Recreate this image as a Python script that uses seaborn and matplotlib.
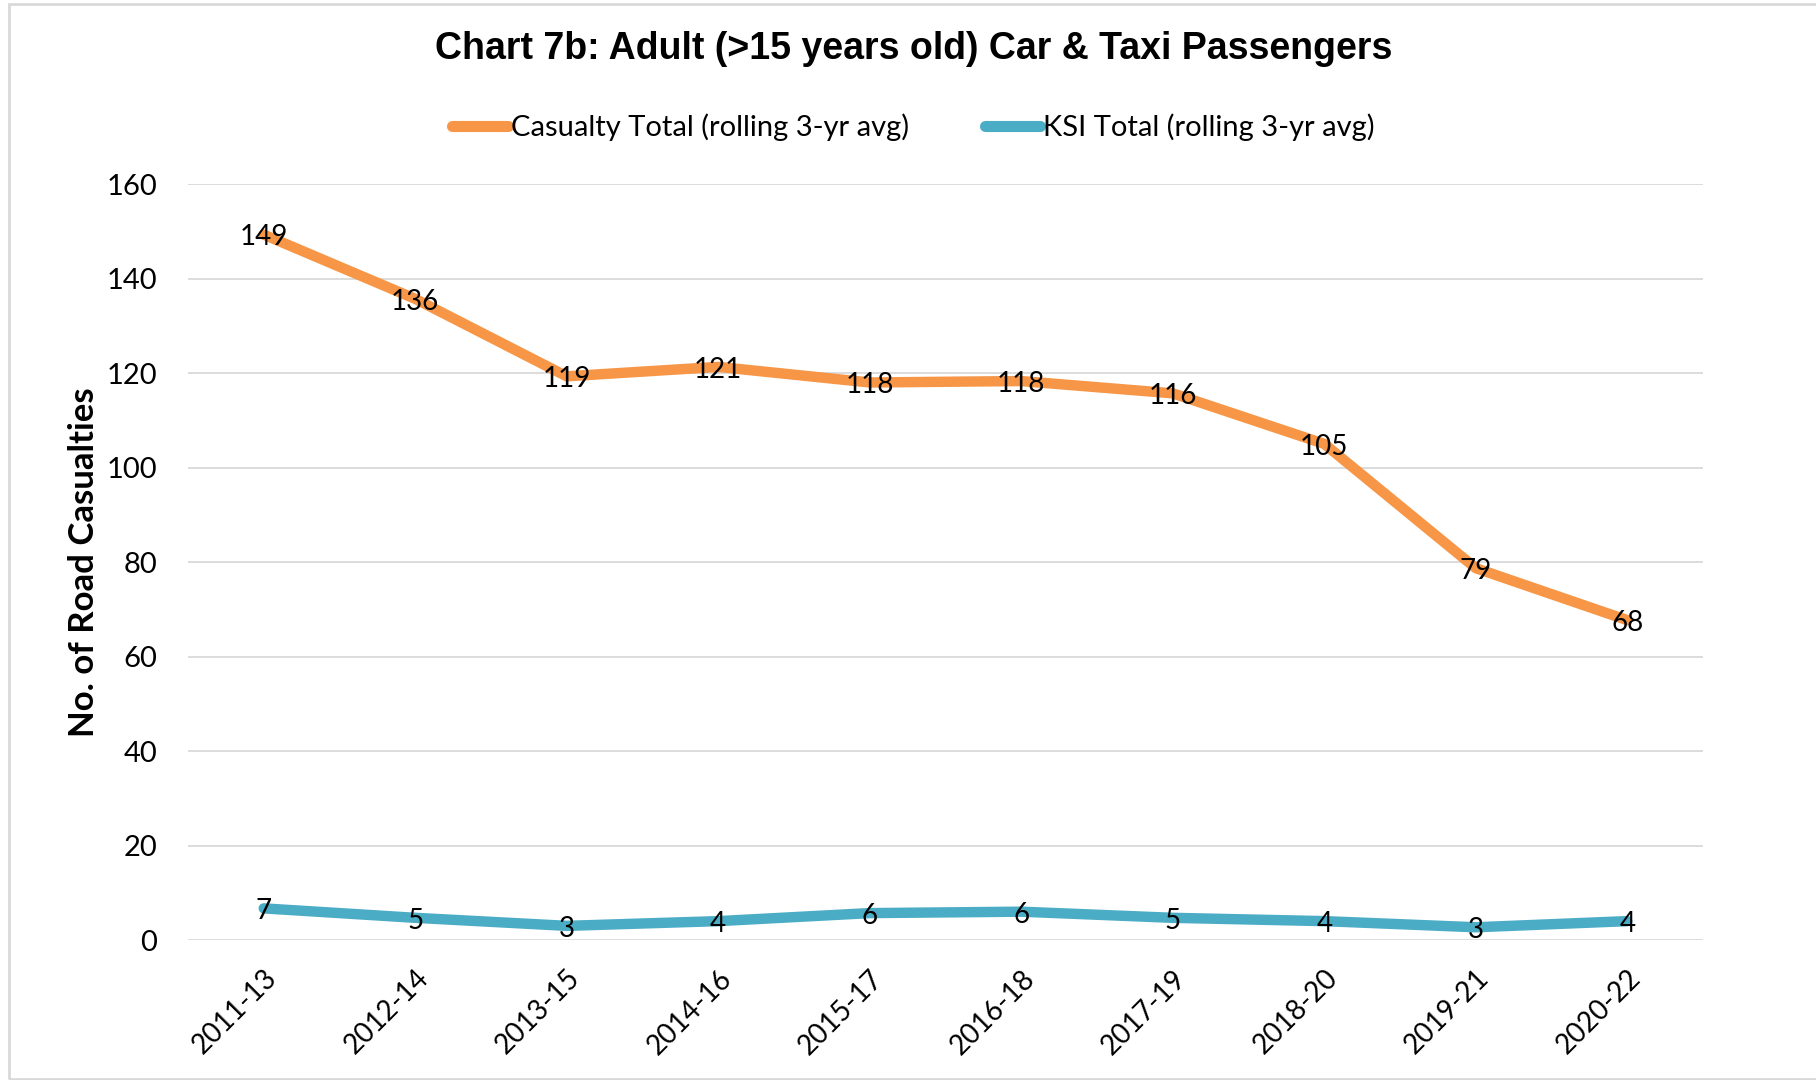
import matplotlib
matplotlib.use("Agg")
import matplotlib.pyplot as plt
import seaborn as sns
import pandas as pd
from matplotlib.patches import Rectangle
from matplotlib.lines import Line2D

# ---------------------------------------------------------------------------
# Data (rolling 3-year averages)
# ---------------------------------------------------------------------------
periods = ["2011-13", "2012-14", "2013-15", "2014-16", "2015-17",
           "2016-18", "2017-19", "2018-20", "2019-21", "2020-22"]
casualty_total = [149.3, 135.7, 119.3, 121.3, 118.0, 118.3, 115.7, 105.0, 78.7, 67.7]
ksi_total = [6.7, 4.7, 3.0, 4.0, 5.7, 6.0, 4.7, 4.0, 2.7, 4.0]
series_names = ["Casualty Total (rolling 3-yr avg)", "KSI Total (rolling 3-yr avg)"]
colours = ["#F79646", "#4BACC6"]
y_ticks = [0, 20, 40, 60, 80, 100, 120, 140, 160]

df = pd.DataFrame({
    "period": periods * 2,
    "pos": list(range(len(periods))) * 2,
    "value": casualty_total + ksi_total,
    "series": [series_names[0]] * len(periods) + [series_names[1]] * len(periods),
})

sns.set_style("white")
plt.rcParams["font.family"] = ["Lato", "DejaVu Sans"]
plt.rcParams["text.color"] = "black"
plt.rcParams["axes.labelcolor"] = "black"
plt.rcParams["xtick.color"] = "black"
plt.rcParams["ytick.color"] = "black"

fig = plt.figure(figsize=(18.16, 10.8), dpi=100)
ax = fig.add_axes([0.1035, 0.1296, 0.8343, 0.70])

for y in y_ticks:
    ax.axhline(y, color="#D9D9D9", linewidth=1.3 if y else 2.0, zorder=1)

sns.lineplot(data=df, x="pos", y="value", hue="series", palette=colours,
             hue_order=series_names, linewidth=7.5, sort=False, legend=False,
             ax=ax, zorder=3)
for line in ax.get_lines():
    line.set_solid_capstyle("round")
    line.set_solid_joinstyle("round")

# Data labels centred on each point
for vals in (casualty_total, ksi_total):
    for i, v in enumerate(vals):
        ax.text(i, v - 0.6, f"{v:.0f}", ha="center", va="center", fontsize=20,
                color="black", zorder=5)

ax.set_xlim(-0.5, len(periods) - 0.5)
ax.set_ylim(0, 160)
ax.set_yticks(y_ticks)
ax.set_yticklabels([str(t) for t in y_ticks], fontsize=21)
ax.set_xticks(range(len(periods)))
ax.set_xticklabels(periods, rotation=45, ha="right", rotation_mode="anchor",
                   fontsize=20)
ax.tick_params(axis="y", length=0, pad=22)
ax.tick_params(axis="x", length=0, pad=18)
for side in ["top", "right", "left", "bottom"]:
    ax.spines[side].set_visible(False)

ax.set_xlabel("")
ax.set_ylabel("No. of Road Casualties", fontsize=25, fontweight="bold",
              labelpad=5)

fig.text(0.503, 0.955, "Chart 7b: Adult (>15 years old) Car & Taxi Passengers",
         ha="center", va="center", fontsize=27, fontweight="bold",
         family="Liberation Sans", color="black")

handles = [Line2D([0], [0], color=c, linewidth=8, solid_capstyle="round")
           for c in colours]
fig.legend(handles, series_names, loc="center", bbox_to_anchor=(0.503, 0.882),
           ncol=2, frameon=False, fontsize=21, handlelength=1.9,
           handletextpad=0.1, columnspacing=2.6)

# light chart-area border
fig.patches.append(Rectangle((0.005, 0.001), 1.2, 0.995, transform=fig.transFigure,
                             fill=False, edgecolor="#D9D9D9", linewidth=2))

plt.savefig("out.png", dpi=100)
plt.close()
